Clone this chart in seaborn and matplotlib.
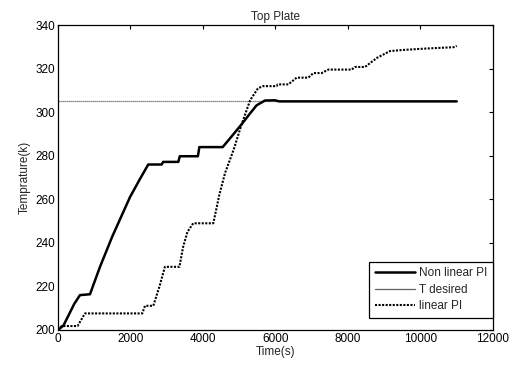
import matplotlib
matplotlib.use("Agg")
import matplotlib.pyplot as plt
import seaborn as sns
import pandas as pd
from matplotlib.lines import Line2D

# Data
nl_t = [0, 150, 300, 450, 607, 883, 1159, 1500, 1986, 2250, 2490, 2860, 2900,
        3320, 3360, 3860, 3900, 4543, 4745, 5067, 5300, 5480, 5710, 5986, 6100, 11000]
nl_T = [200, 202, 207, 212, 216, 216.4, 229, 243, 261, 269, 276, 276, 277.2,
        277.2, 279.8, 279.8, 284, 284, 288, 294.5, 299.5, 303.2, 305.4, 305.5, 305, 305]

des_t = [0, 11000]
des_T = [305, 305]

lin_t = [0, 100, 540, 745, 2326, 2400, 2630, 2800, 2950, 3350, 3450, 3570, 3730,
         4285, 4450, 4607, 4850, 5067, 5300, 5517, 5655, 6030, 6060, 6354, 6584,
         6906, 7045, 7274, 7457, 8101, 8193, 8469, 8800, 9159, 9500, 10078, 10924, 11000]
lin_T = [200, 201.8, 201.8, 207.6, 207.6, 211.1, 211.1, 220, 229, 229, 238, 245, 249,
         249, 262, 272, 283, 294.5, 305.5, 311, 312, 312, 312.8, 312.8, 315.9,
         315.9, 318, 318, 319.6, 319.6, 320.8, 320.8, 325, 328.1, 328.6, 329.2, 329.9, 330.5]

sns.set_style("white")
plt.rcParams['font.family'] = ['Liberation Sans', 'DejaVu Sans']

fig = plt.figure(figsize=(5.13, 3.65), dpi=100)
ax = fig.add_axes([0.113, 0.096, 0.848, 0.835])

sns.lineplot(x=des_t, y=des_T, ax=ax, color='#606060', linewidth=0.9, estimator=None,
             sort=False, linestyle=(0, (1, 0.6)), zorder=1)
sns.lineplot(x=lin_t, y=lin_T, ax=ax, color='black', linewidth=1.5, estimator=None,
             sort=False, linestyle=(0, (1, 0.7)), zorder=2)
sns.lineplot(x=nl_t, y=nl_T, ax=ax, color='black', linewidth=1.8, estimator=None,
             sort=False, zorder=3)

ax.set_xlim(0, 12000)
ax.set_ylim(200, 340)
ax.set_xticks(range(0, 12001, 2000))
ax.set_yticks(range(200, 341, 20))
ax.tick_params(direction='in', top=True, right=True, length=3, width=0.8,
               labelsize=8.5, colors='black', pad=2)
for s in ax.spines.values():
    s.set_visible(True)
    s.set_color('black')
    s.set_linewidth(0.9)

ax.set_xlabel('Time(s)', fontsize=8.5, labelpad=1)
ax.set_ylabel('Temprature(k)', fontsize=8.5, labelpad=3)
ax.set_title('Top Plate', fontsize=8.5, pad=4)

handles = [Line2D([], [], color='black', linewidth=1.8),
           Line2D([], [], color='#606060', linewidth=0.9),
           Line2D([], [], color='black', linewidth=1.5, linestyle=(0, (1, 0.7)))]
leg = ax.legend(handles, ['Non linear PI', 'T desired', 'linear PI'],
                loc='lower right', bbox_to_anchor=(1.0, 0.04), borderaxespad=0,
                fontsize=8.5, frameon=True, fancybox=False, edgecolor='black',
                framealpha=1, handlelength=3.4, handletextpad=0.4, borderpad=0.45,
                labelspacing=0.4)
leg.get_frame().set_linewidth(0.9)

fig.savefig('out.png', dpi=100)
